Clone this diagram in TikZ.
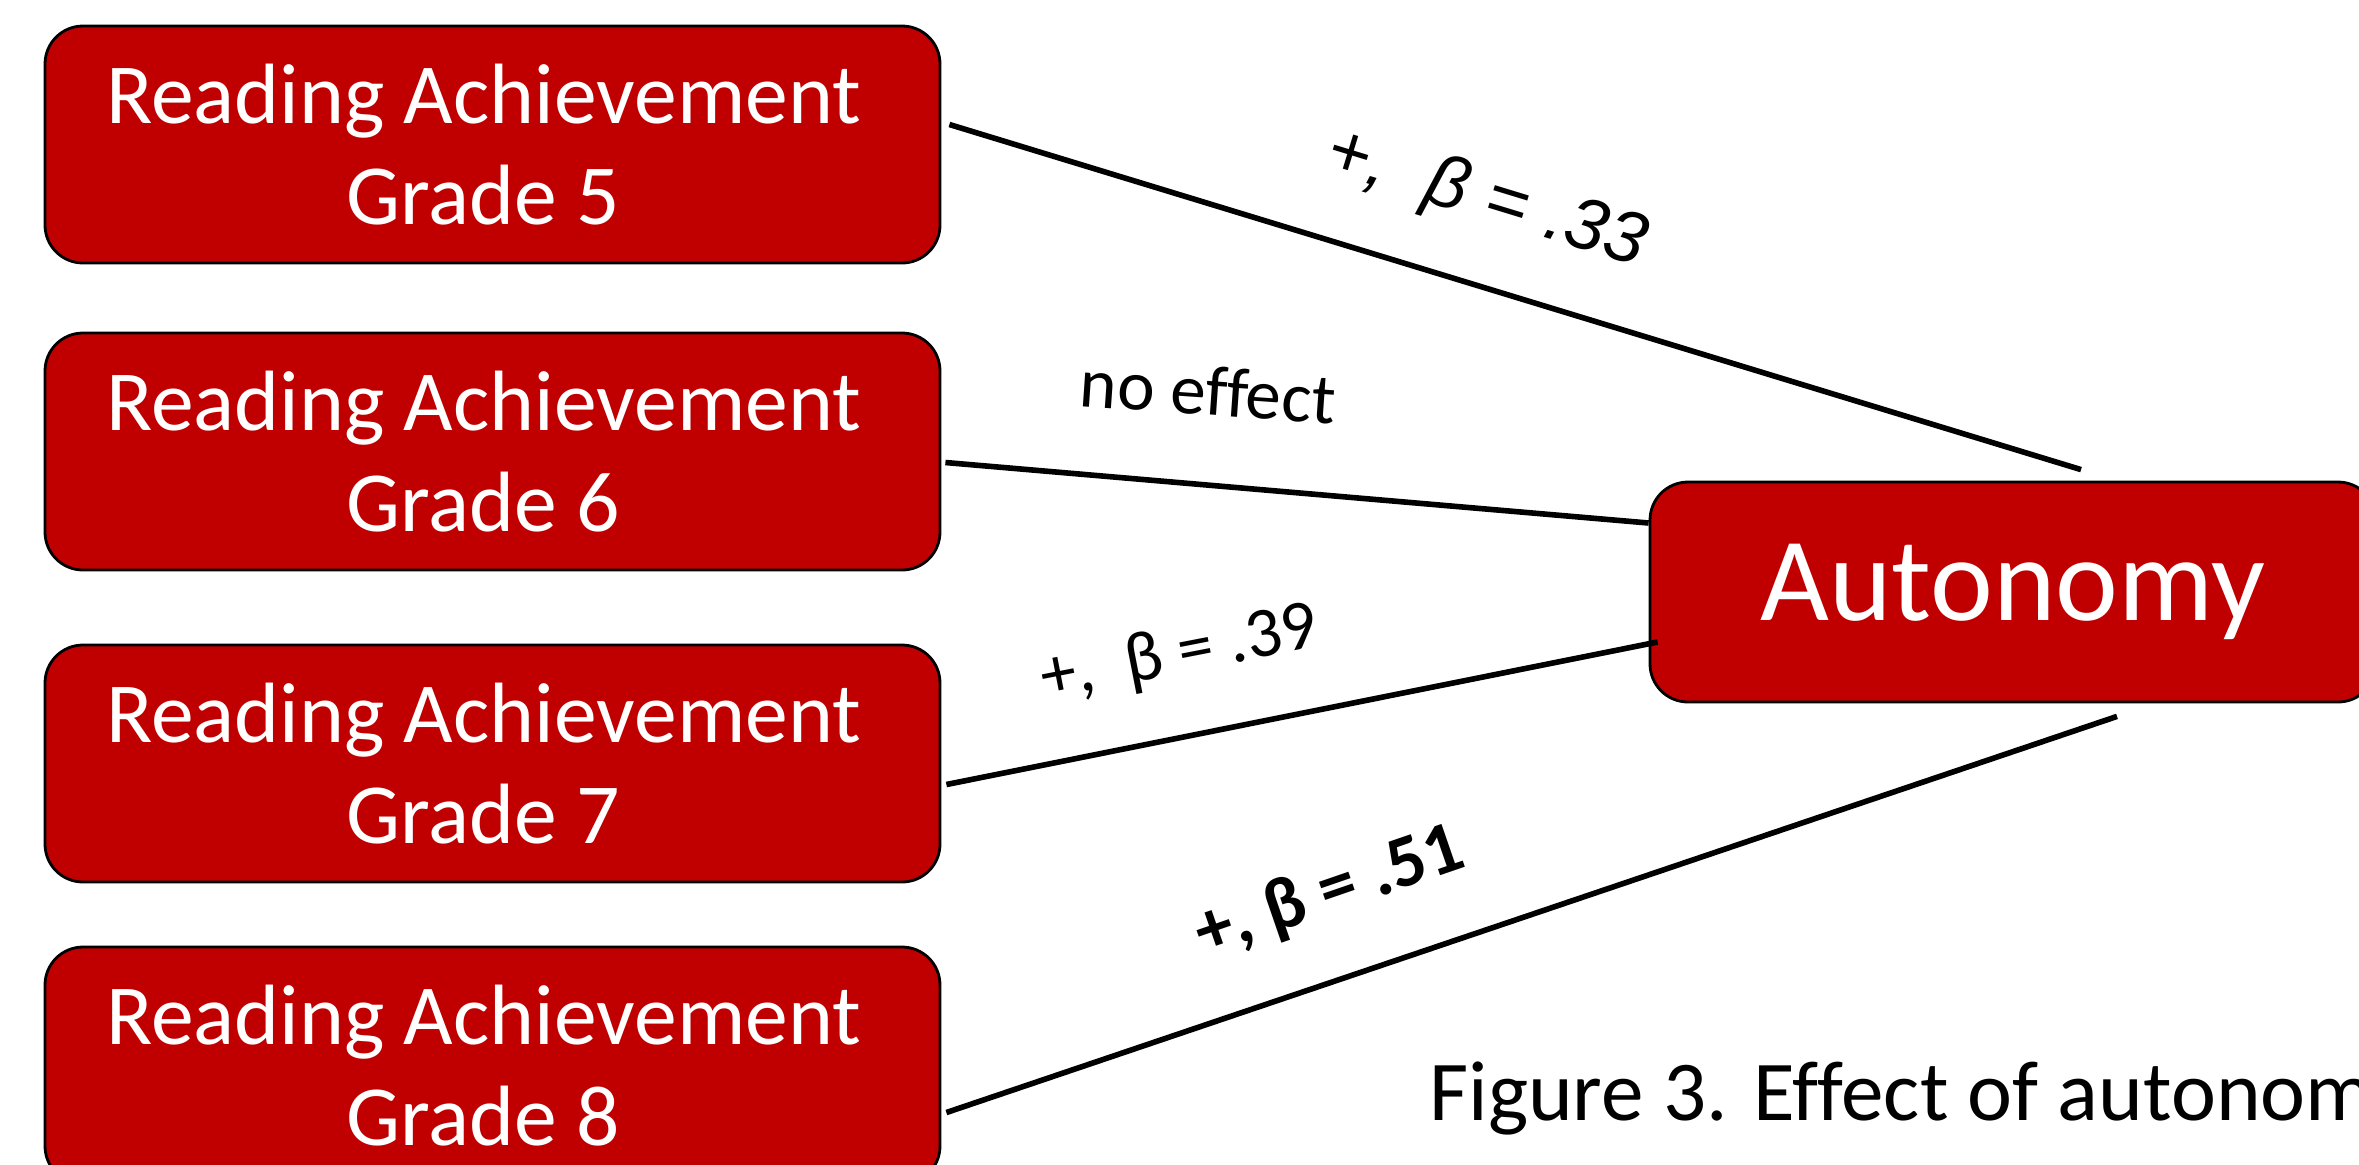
\documentclass[tikz,border=0pt]{standalone}
\usepackage{fontspec}
\setmainfont{Carlito}[Ligatures=CommonOff]
\newfontfamily\arialfont{Liberation Sans}
\usetikzlibrary{calc}
\definecolor{boxred}{RGB}{192,0,0}
\newcommand{\rtpad}{\hspace*{9pt}}
\begin{document}
\begin{tikzpicture}[x=0.5pt,y=-0.5pt,
  rabox/.style={draw=black,line width=1.4pt,fill=boxred,rounded corners=19pt,
    text=white,minimum width=447.5pt,minimum height=118.5pt,align=center,inner sep=0pt,
    font=\fontsize{42.8pt}{50.5pt}\selectfont},
  autbox/.style={draw=black,line width=1.4pt,fill=boxred,rounded corners=19pt,
    text=white,minimum width=363pt,minimum height=110pt,inner sep=0pt,
    font=\fontsize{59.5pt}{70pt}\selectfont},
  link/.style={draw=black,line width=2.8pt},
  lab/.style={inner sep=0pt,font=\fontsize{35.5pt}{40pt}\selectfont},
  caption/.style={inner sep=0pt,font=\fontsize{42.6pt}{52pt}\selectfont}]
\useasboundingbox (0,0) rectangle (2359,1164);
\clip (0,0) rectangle (2359,1164);

\node[rabox] (b1) at (492.5,144.5) {Reading Achievement\rtpad\\Grade 5\rtpad};
\node[rabox] (b2) at (492.5,451.5) {Reading Achievement\rtpad\\Grade 6\rtpad};
\node[rabox] (b3) at (492.5,763.5) {Reading Achievement\rtpad\\Grade 7\rtpad};
\node[rabox] (b4) at (492.5,1065.5) {Reading Achievement\rtpad\\Grade 8\rtpad};
\node[autbox] (aut) at (2013,592) {Autonomy};

\draw[link] ($(b1.east)+(8,-20)$) -- ($(aut.north)+(68,-11)$);
\draw[link] ($(b2.east)+(4,11)$) -- ($(aut.west)+(0,-69)$);
\draw[link] ($(b3.east)+(5,21)$) -- ($(aut.west)+(9,50)$);
\draw[link] ($(b4.east)+(5,47)$) -- ($(aut.south)+(104,13)$);

\node[lab,rotate=-17,font=\arialfont\itshape\fontsize{36.5pt}{40pt}\selectfont] (l1) at (1486,200) {+,\ \ β = .33};
\node[lab,rotate=-4] (l2) at (1208,391) {no effect};
\node[lab,rotate=11] (l3) at (1180,655) {+,\ \ β = .39};
\node[lab,rotate=19,font=\bfseries\fontsize{37pt}{40pt}\selectfont] (l4) at (1330,893) {+, β = .51};

\node[caption,anchor=base west] (cap) at (1429,1120) {Figure 3. Effect of autonomy};
\end{tikzpicture}
\end{document}
